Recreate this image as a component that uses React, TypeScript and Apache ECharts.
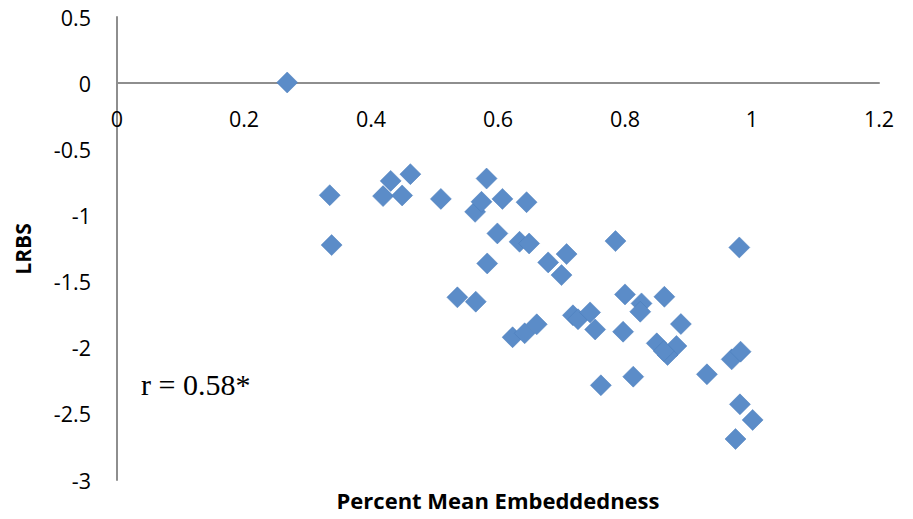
import React, { useEffect, useRef } from "react";
import * as echarts from "echarts";

const embeddedness = [
  0.268, 0.335, 0.338, 0.419, 0.431, 0.449, 0.462, 0.510, 0.564, 0.574,
  0.582, 0.607, 0.645, 0.599, 0.634, 0.649, 0.785, 0.583, 0.679, 0.708,
  0.700, 0.536, 0.565, 0.623, 0.642, 0.661, 0.718, 0.726, 0.745, 0.753,
  0.800, 0.797, 0.826, 0.824, 0.862, 0.888, 0.850, 0.881, 0.867, 0.861,
  0.813, 0.762, 0.929, 0.968, 0.982, 0.980, 0.981, 1.001, 0.974,
];
const lrbs = [
  0.005, -0.847, -1.224, -0.854, -0.739, -0.849, -0.688, -0.875, -0.973, -0.897,
  -0.721, -0.875, -0.900, -1.136, -1.199, -1.212, -1.194, -1.363, -1.355, -1.292,
  -1.451, -1.619, -1.652, -1.921, -1.891, -1.823, -1.755, -1.785, -1.733, -1.862,
  -1.597, -1.879, -1.665, -1.728, -1.615, -1.821, -1.967, -1.987, -2.055, -2.025,
  -2.219, -2.284, -2.201, -2.088, -2.030, -1.242, -2.428, -2.546, -2.690,
];
const xTicks = { min: 0, max: 1.2, interval: 0.2 };
const yTicks = { min: -3, max: 0.5, interval: 0.5 };
const xTitle = "Percent Mean Embeddedness";
const yTitle = "LRBS";
const annotation = "r = 0.58*";

export default function App() {
  const ref = useRef<HTMLDivElement>(null);
  useEffect(() => {
    if (!ref.current) return;
    const chart = echarts.init(ref.current, null, { renderer: "svg" });
    const top = 17;
    const bottom = 39;
    const plotH = 519 - top - bottom;
    const zeroFromBottom = ((0 - yTicks.min) / (yTicks.max - yTicks.min)) * plotH;
    const axisLine = { lineStyle: { color: "#8e8e8e", width: 2 } };
    const labelStyle = { color: "#000", fontFamily: "Open Sans", fontSize: 21.5 };
    chart.setOption({
      animation: false,
      grid: { left: 117, right: 34, top, bottom, containLabel: false },
      xAxis: {
        type: "value",
        ...xTicks,
        position: "bottom",
        offset: -zeroFromBottom,
        axisLine: { ...axisLine, onZero: false },
        axisTick: { show: false },
        splitLine: { show: false },
        axisLabel: { ...labelStyle, margin: 24, formatter: (v: number) => String(Number(v.toFixed(1))) },
      },
      yAxis: {
        type: "value",
        ...yTicks,
        axisLine: { ...axisLine, onZero: false },
        axisTick: { show: false },
        splitLine: { show: false },
        axisLabel: { ...labelStyle, margin: 26, formatter: (v: number) => String(Number(v.toFixed(1))) },
      },
      series: [
        {
          type: "scatter",
          symbol: "diamond",
          symbolSize: 21,
          itemStyle: { color: "#5b8cc8", borderColor: "#4a7cba", borderWidth: 0.5, opacity: 1 },
          data: embeddedness.map((x, i) => [x, lrbs[i]]),
        },
      ],
      graphic: [
        {
          type: "text",
          x: 498,
          y: 500,
          style: {
            text: xTitle,
            fill: "#000",
            font: "bold 22px 'Open Sans'",
            align: "center",
            verticalAlign: "middle",
          },
        },
        {
          type: "text",
          x: 23,
          y: 249,
          rotation: Math.PI / 2,
          style: {
            text: yTitle,
            fill: "#000",
            font: "bold 21px 'Open Sans'",
            align: "center",
            verticalAlign: "middle",
          },
        },
        {
          type: "text",
          x: 141,
          y: 384,
          style: {
            text: annotation,
            fill: "#000",
            font: "30px 'Liberation Serif'",
            align: "left",
            verticalAlign: "middle",
          },
        },
      ],
    });
    return () => chart.dispose();
  }, []);
  return (
    <div
      ref={ref}
      style={{ position: "fixed", left: 0, top: 0, width: 913, height: 519, background: "#fff" }}
    />
  );
}
